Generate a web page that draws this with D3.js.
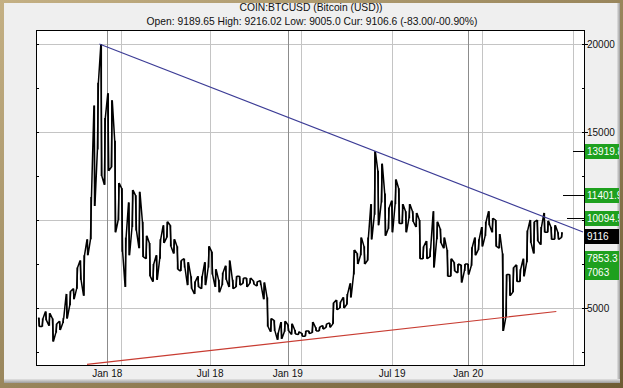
<!DOCTYPE html>
<html>
<head>
<meta charset="utf-8">
<script src="https://cdn.jsdelivr.net/npm/d3@7"></script>
<style>
    body { margin: 0; background: #fff; }
    svg { display: block; font-family: "Liberation Sans", Arial, sans-serif; }
</style>
</head>
<body>
<svg id="chart" width="623" height="388"></svg>
<script>
// Header texts
const titleText = "COIN:BTCUSD (Bitcoin (USD))";
const quoteText = "Open: 9189.65 High: 9216.02 Low: 9005.0 Cur: 9106.6 (-83.00/-00.90%)";

// Weekly ranges, first week starting 2017-08-13
const firstWeek = "2017-08-13";
const weekLow = [
    3950, 3950, 4300, 4000, 3100, 3600, 3750, 4150, 4400, 5150,
    5500, 6100, 6600, 5700, 8000, 8900, 10800, 14000, 12500, 12000,
    12800, 13000, 9300, 10000, 8200, 6200, 8000, 9600, 9400, 8400,
    7900, 7800, 6800, 6500, 6600, 7800, 8700, 9000, 8500, 8100,
    7200, 7100, 7300, 6300, 6100, 5800, 6200, 6100, 6300, 7300,
    6900, 6200, 5900, 6300, 6600, 6200, 6100, 6200, 6300, 6400,
    6200, 6400, 6350, 6250, 6300, 5500, 3950, 3650, 3700, 3200,
    3250, 3650, 3700, 3500, 3520, 3500, 3400, 3400, 3550, 3600,
    3700, 3700, 3800, 3900, 3900, 4100, 4900, 5000, 5000, 5200,
    5600, 6900, 7500, 8000, 7500, 7700, 8900, 10300, 9700, 11000,
    9100, 9500, 9300, 10900, 9800, 9800, 9300, 10100, 9900, 9600,
    7800, 7800, 7800, 7900, 7300, 8900, 8700, 8400, 6800, 6800,
    7100, 7000, 6450, 7100, 6900, 7400, 8000, 8300, 8500, 9100,
    9700, 9300, 8500, 8400, 3700, 4500, 5700, 5900, 6500, 6500,
    6800, 7600, 8700, 8100, 8800, 8600, 9300, 9300, 8900, 8900,
    8900, 9000
];
const weekHigh = [
    4450, 4400, 4800, 4700, 4400, 4100, 4250, 4450, 5800, 5950,
    6100, 7300, 7700, 8000, 8900, 11300, 16500, 17800, 20000, 15800,
    17200, 16800, 14500, 12100, 11800, 9000, 11000, 11700, 11400, 11600,
    9900, 9100, 8700, 7500, 8000, 8900, 9700, 9900, 9700, 8900,
    8500, 7700, 7800, 7600, 6800, 6500, 6800, 6800, 7600, 8500,
    8200, 7200, 6600, 7000, 7400, 7700, 6600, 6800, 6800, 6700,
    6700, 6700, 6550, 6500, 6550, 6450, 5600, 4400, 4300, 3600,
    4200, 4250, 4050, 4100, 3750, 3650, 3560, 3700, 3700, 4200,
    3900, 3920, 4000, 4100, 4150, 5300, 5450, 5350, 5600, 5800,
    6400, 8300, 8100, 9000, 8500, 9000, 10900, 13900, 12800, 13200,
    11500, 10700, 11100, 12300, 11800, 10900, 10500, 10900, 10500, 10400,
    10000, 8500, 8800, 8400, 10500, 9900, 9500, 9000, 8300, 7800,
    7600, 7500, 7450, 7500, 7500, 8450, 9000, 8900, 9600, 9900,
    10500, 10100, 10000, 9200, 8100, 6900, 6900, 7300, 7450, 7200,
    7800, 9400, 10000, 9900, 10000, 9600, 10400, 9950, 9600, 9700,
    9300, 9300
];

// Axis ticks and grid
const yTicks = [5000, 10000, 15000, 20000];
const yMinorTicks = [2500, 7500, 12500, 17500];
const xLabels = [
    { label: "Jan 18", date: "2018-01-01" },
    { label: "Jul 18", date: "2018-07-28" },
    { label: "Jan 19", date: "2019-01-01" },
    { label: "Jul 19", date: "2019-07-31" },
    { label: "Jan 20", date: "2020-01-01" },
];
const yearGrid = ["2018-01-01", "2019-01-01", "2020-01-01"];
const halfGrid = ["2018-01-29", "2018-07-28", "2019-01-28", "2019-07-31", "2020-01-29", "2020-07-30"];

// Trend lines
const upperTrend = [["2017-12-16", 20000], ["2020-08-20", 9318]];
const lowerTrend = [["2017-11-21", 1800], ["2020-06-27", 4800]];

// Target levels on the right axis
const levelValues = [13919.8, 11401.9, 10094.5];
const levelStarts = ["2020-07-30", "2020-07-10", "2020-07-19"];
const lowTargets = [7853.3, 7063];
const currentPrice = 9116;

const parse = d3.utcParse("%Y-%m-%d");
const W = 623, H = 388;
const plot = { left: 36, right: 584, top: 30, bottom: 365 };
const colors = {
    panel: "#efefef",
    grid: "#c4c4c4",
    yearGrid: "#8c8c8c",
    upper: "#3c3c96",
    lower: "#c83c32",
    target: "#1ea01e",
};

const svg = d3.select("#chart");
const defs = svg.append("defs");

// Frame
const fg = defs.append("linearGradient").attr("id", "frameGrad")
    .attr("x1", 0).attr("y1", 0).attr("x2", 1).attr("y2", 1);
fg.append("stop").attr("offset", 0).attr("stop-color", "#c4b084");
fg.append("stop").attr("offset", 1).attr("stop-color", "#6e5c34");
const sr = defs.append("linearGradient").attr("id", "shadeR");
sr.append("stop").attr("offset", 0).attr("stop-color", "#e2e2e2");
sr.append("stop").attr("offset", 1).attr("stop-color", "#9c9c9c");
const sb = defs.append("linearGradient").attr("id", "shadeB").attr("x2", 0).attr("y2", 1);
sb.append("stop").attr("offset", 0).attr("stop-color", "#e2e2e2");
sb.append("stop").attr("offset", 1).attr("stop-color", "#9c9c9c");

svg.append("rect").attr("width", W).attr("height", H).attr("fill", "url(#frameGrad)");
svg.append("rect").attr("x", 4).attr("y", 3).attr("width", 616).attr("height", 380).attr("fill", colors.panel);
svg.append("rect").attr("x", 617).attr("y", 3).attr("width", 3).attr("height", 380).attr("fill", "url(#shadeR)");
svg.append("rect").attr("x", 4).attr("y", 379).attr("width", 616).attr("height", 4).attr("fill", "url(#shadeB)");

defs.append("clipPath").attr("id", "plotClip").append("rect")
    .attr("x", plot.left).attr("y", plot.top)
    .attr("width", plot.right - plot.left).attr("height", plot.bottom - plot.top);
defs.append("clipPath").attr("id", "axisClip").append("rect")
    .attr("x", plot.right).attr("y", plot.top - 5).attr("width", 619 - plot.right).attr("height", plot.bottom - plot.top + 10);

// Scales
const x = d3.scaleUtc()
    .domain([parse("2018-01-01"), parse("2020-01-01")])
    .range([107.3, 468.3]);
const y = d3.scaleLinear().domain([5000, 20000]).range([308, 44]);

// Header
svg.append("text").attr("x", 311).attr("y", 11).attr("text-anchor", "middle")
    .attr("font-size", 10.3).attr("fill", "#111").text(titleText);
svg.append("text").attr("x", 312).attr("y", 25).attr("text-anchor", "middle")
    .attr("font-size", 10.3).attr("fill", "#111").text(quoteText);

// Plot background
svg.append("rect").attr("x", plot.left).attr("y", plot.top)
    .attr("width", plot.right - plot.left).attr("height", plot.bottom - plot.top)
    .attr("fill", "#fff");

const grid = svg.append("g").attr("shape-rendering", "crispEdges");
grid.selectAll("line.h").data(yTicks).enter().append("line")
    .attr("x1", plot.left).attr("x2", plot.right)
    .attr("y1", (d) => Math.round(y(d)) + 0.5).attr("y2", (d) => Math.round(y(d)) + 0.5)
    .attr("stroke", colors.grid);
grid.selectAll("line.v").data(halfGrid).enter().append("line")
    .attr("x1", (d) => Math.round(x(parse(d))) + 0.5).attr("x2", (d) => Math.round(x(parse(d))) + 0.5)
    .attr("y1", plot.top).attr("y2", plot.bottom)
    .attr("stroke", colors.grid);
grid.selectAll("line.yr").data(yearGrid).enter().append("line")
    .attr("x1", (d) => Math.round(x(parse(d))) + 0.5).attr("x2", (d) => Math.round(x(parse(d))) + 0.5)
    .attr("y1", plot.top).attr("y2", plot.bottom)
    .attr("stroke", colors.yearGrid);

// Price: a near-vertical stroke through each week's extremes, joined week to week
const start = parse(firstWeek);
const weeks = weekLow.map((lo, i) => ({
    date: d3.utcDay.offset(start, i * 7 + 3),
    low: lo,
    high: weekHigh[i],
}));
const pts = [];
weeks.forEach((w, i) => {
    const pair = i % 2 ? [w.low, w.high] : [w.high, w.low];
    pts.push([d3.utcDay.offset(w.date, -1), pair[0]]);
    pts.push([d3.utcDay.offset(w.date, 1), pair[1]]);
});

const inner = svg.append("g").attr("clip-path", "url(#plotClip)");
const line = d3.line().x((d) => x(d[0])).y((d) => y(d[1]));
inner.append("path").datum(pts).attr("d", line)
    .attr("fill", "none").attr("stroke", "#000").attr("stroke-width", 1.5)
    .attr("stroke-linejoin", "bevel");
inner.selectAll("line.bar").data(weeks).enter().append("line")
    .attr("x1", (d) => x(d.date)).attr("x2", (d) => x(d.date))
    .attr("y1", (d) => y(d.low)).attr("y2", (d) => y(d.high))
    .attr("stroke", "#000").attr("stroke-width", 1.4);

const trendLine = d3.line().x((d) => x(parse(d[0]))).y((d) => y(d[1]));
inner.append("path").datum(upperTrend).attr("d", trendLine)
    .attr("fill", "none").attr("stroke", colors.upper).attr("stroke-width", 1.2);
inner.append("path").datum(lowerTrend).attr("d", trendLine)
    .attr("fill", "none").attr("stroke", colors.lower).attr("stroke-width", 1.2);

// Target level marks
inner.selectAll("line.level").data(levelValues).enter().append("line")
    .attr("x1", (d, i) => x(parse(levelStarts[i]))).attr("x2", plot.right)
    .attr("y1", (d) => Math.round(y(d)) + 0.5).attr("y2", (d) => Math.round(y(d)) + 0.5)
    .attr("stroke", "#000").attr("shape-rendering", "crispEdges");

// Border and ticks
svg.append("rect").attr("x", plot.left + 0.5).attr("y", plot.top + 0.5)
    .attr("width", plot.right - plot.left).attr("height", plot.bottom - plot.top)
    .attr("fill", "none").attr("stroke", "#000").attr("shape-rendering", "crispEdges");

const ticks = svg.append("g").attr("stroke", "#000").attr("shape-rendering", "crispEdges");
ticks.selectAll("line.l").data(yTicks.concat(yMinorTicks)).enter().append("line")
    .attr("x1", plot.left).attr("x2", plot.left + 3)
    .attr("y1", (d) => Math.round(y(d)) + 0.5).attr("y2", (d) => Math.round(y(d)) + 0.5);
ticks.selectAll("line.rm").data(yMinorTicks).enter().append("line")
    .attr("x1", plot.right - 2).attr("x2", plot.right)
    .attr("y1", (d) => Math.round(y(d)) + 0.5).attr("y2", (d) => Math.round(y(d)) + 0.5);
ticks.selectAll("line.r").data(yTicks).enter().append("line")
    .attr("x1", plot.right - 2).attr("x2", plot.right + 4)
    .attr("y1", (d) => Math.round(y(d)) + 0.5).attr("y2", (d) => Math.round(y(d)) + 0.5);

// 10000 sits under the 10094.5 box, as in the source chart
svg.append("g").selectAll("text").data(yTicks.filter((d) => d !== 10000)).enter().append("text")
    .attr("x", plot.right + 3).attr("y", (d) => y(d) + 4)
    .attr("font-size", 10).attr("fill", "#111").text((d) => d);

svg.append("g").selectAll("text").data(xLabels).enter().append("text")
    .attr("x", (d) => x(parse(d.date))).attr("y", 377)
    .attr("text-anchor", "middle").attr("font-size", 10).attr("fill", "#111")
    .text((d) => d.label);

// Right-axis value boxes
const boxes = svg.append("g").attr("clip-path", "url(#axisClip)");
const boxData = levelValues.concat(lowTargets).map((v) => ({ v, fill: colors.target }))
    .concat([{ v: currentPrice, fill: "#000" }]);
boxes.selectAll("rect").data(boxData).enter().append("rect")
    .attr("x", plot.right + 1).attr("width", 40)
    .attr("y", (d) => Math.round(y(d.v)) - 7).attr("height", 15)
    .attr("fill", (d) => d.fill);
boxes.selectAll("text").data(boxData).enter().append("text")
    .attr("x", plot.right + 3).attr("y", (d) => y(d.v) + 4)
    .attr("font-size", 10).attr("fill", "#fff").text((d) => d.v);
</script>
</body>
</html>
